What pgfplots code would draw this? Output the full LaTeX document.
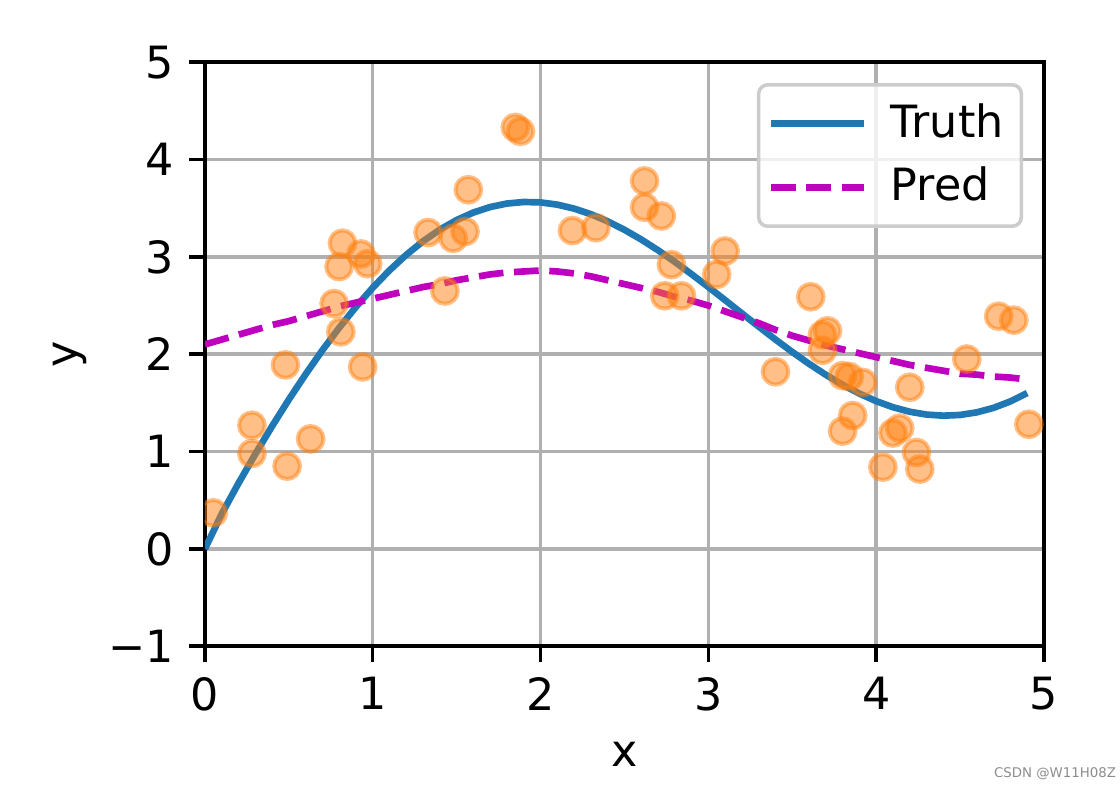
\documentclass[border=0pt]{standalone}
\usepackage{pgfplots}
\pgfplotsset{compat=1.18}
\usepackage{fontspec}
\setmainfont{DejaVu Sans}
\definecolor{c0}{HTML}{1F77B4}
\definecolor{c1}{HTML}{FF7F0E}
\definecolor{predc}{HTML}{BF00BF}
\definecolor{gridc}{HTML}{B0B0B0}

\pgfplotstableread{
x y
0.0 0.0000
0.1 0.3582
0.2 0.6733
0.3 0.9727
0.4 1.2593
0.5 1.5332
0.6 1.7938
0.7 2.0402
0.8 2.2712
0.9 2.4858
1.0 2.6829
1.1 2.8616
1.2 3.0211
1.3 3.1607
1.4 3.2798
1.5 3.3782
1.6 3.4556
1.7 3.5121
1.8 3.5480
1.9 3.5637
2.0 3.5597
2.1 3.5367
2.2 3.4959
2.3 3.4384
2.4 3.3653
2.5 3.2782
2.6 3.1787
2.7 3.0682
2.8 2.9488
2.9 2.8222
3.0 2.6905
3.1 2.5553
3.2 2.4191
3.3 2.2835
3.4 2.1508
3.5 2.0227
3.6 1.9013
3.7 1.7884
3.8 1.6858
3.9 1.5951
4.0 1.5178
4.1 1.4554
4.2 1.4089
4.3 1.3796
4.4 1.3684
4.5 1.3759
4.6 1.4027
4.7 1.4490
4.8 1.5152
4.9 1.6009
}\truth

\pgfplotstableread{
x y
0.0 2.10
0.1 2.15
0.2 2.20
0.3 2.25
0.4 2.30
0.5 2.34
0.6 2.39
0.7 2.44
0.8 2.49
0.9 2.53
1.0 2.57
1.1 2.61
1.2 2.65
1.3 2.69
1.4 2.72
1.5 2.76
1.6 2.79
1.7 2.82
1.8 2.84
1.9 2.85
2.0 2.86
2.1 2.85
2.2 2.83
2.3 2.80
2.4 2.76
2.5 2.72
2.6 2.68
2.7 2.64
2.8 2.59
2.9 2.55
3.0 2.50
3.1 2.44
3.2 2.38
3.3 2.32
3.4 2.25
3.5 2.19
3.6 2.14
3.7 2.09
3.8 2.05
3.9 2.01
4.0 1.97
4.1 1.93
4.2 1.89
4.3 1.86
4.4 1.83
4.5 1.80
4.6 1.79
4.7 1.77
4.8 1.76
4.9 1.74
}\pred

\pgfplotstableread{
x y
0.05 0.37
0.28 1.27
0.28 0.98
0.48 1.89
0.49 0.85
0.63 1.13
0.77 2.52
0.81 2.23
0.80 2.90
0.82 3.14
0.93 3.03
0.97 2.93
0.94 1.87
1.33 3.25
1.43 2.65
1.48 3.19
1.55 3.26
1.57 3.69
1.85 4.33
1.88 4.29
2.19 3.27
2.33 3.30
2.62 3.78
2.62 3.51
2.72 3.42
2.78 2.92
2.74 2.60
2.84 2.60
3.05 2.82
3.10 3.06
3.40 1.82
3.61 2.59
3.68 2.20
3.71 2.24
3.68 2.04
3.80 1.78
3.84 1.77
3.92 1.71
4.20 1.66
3.86 1.37
3.80 1.21
4.10 1.19
4.14 1.24
4.04 0.84
4.24 0.99
4.26 0.82
4.54 1.95
4.73 2.39
4.82 2.35
4.91 1.28
}\train

\begin{document}
\begin{tikzpicture}
\begin{axis}[
  scale only axis,
  width=188.8pt, height=131.4pt,
  xmin=0, xmax=5, ymin=-1, ymax=5,
  xtick={0,1,2,3,4,5}, ytick={-1,0,1,2,3,4,5},
  xticklabels={0,1,2,3,4,5},
  yticklabels={−1,0,1,2,3,4,5},
  tick align=outside, tick pos=left,
  major tick length=3.5pt,
  tick style={black, line width=0.8pt},
  axis line style={line width=0.8pt},
  grid=major,
  grid style={gridc, line width=0.8pt},
  every axis x label/.style={at={(axis description cs:0.5,-0.186)}, anchor=center},
  every axis y label/.style={at={(axis description cs:-0.161,0.5)}, anchor=center, rotate=90},
  xlabel={x}, ylabel={y},
  clip marker paths=true,
  legend image code/.code={\draw[#1] (0pt,0pt) -- (21pt,0pt); \path[draw=none] (0pt,0pt) -- (25pt,0pt);},
  legend style={at={(axis description cs:1,1)}, anchor=north east,
    xshift=-4.7pt, yshift=-4.7pt,
    draw=black!20, line width=0.8pt, rounded corners=2pt,
    fill=white, fill opacity=0.8, text opacity=1,
    inner xsep=2pt, inner ysep=2.2pt, row sep=1.2pt,
    cells={anchor=west}},
]
\addplot[c0, line width=1.5pt, no marks] table[x=x,y=y] {\truth};
\addlegendentry{Truth}
\addplot[predc, line width=1.5pt, no marks, dash pattern=on 5.55pt off 2.4pt] table[x=x,y=y] {\pred};
\addlegendentry{Pred}
\addplot[only marks, mark=*, mark size=2.9pt,
  mark options={draw=c1, fill=c1, line width=0.9pt, fill opacity=0.5, draw opacity=0.5}]
  table[x=x,y=y] {\train};
\end{axis}
\node[anchor=east, text=black!45, font=\fontsize{3}{3.5}\selectfont, inner sep=0pt]
  at ([xshift=16.4pt,yshift=-28.6pt]current axis.south east) {CSDN @W11H08Z};
\path (current axis.south west) ++(-46.1pt,-32.2pt) coordinate (bbA);
\path (current axis.north east) ++(17.1pt,14.0pt) coordinate (bbB);
\pgfresetboundingbox
\path[use as bounding box] (bbA) rectangle (bbB);
\end{tikzpicture}
\end{document}
